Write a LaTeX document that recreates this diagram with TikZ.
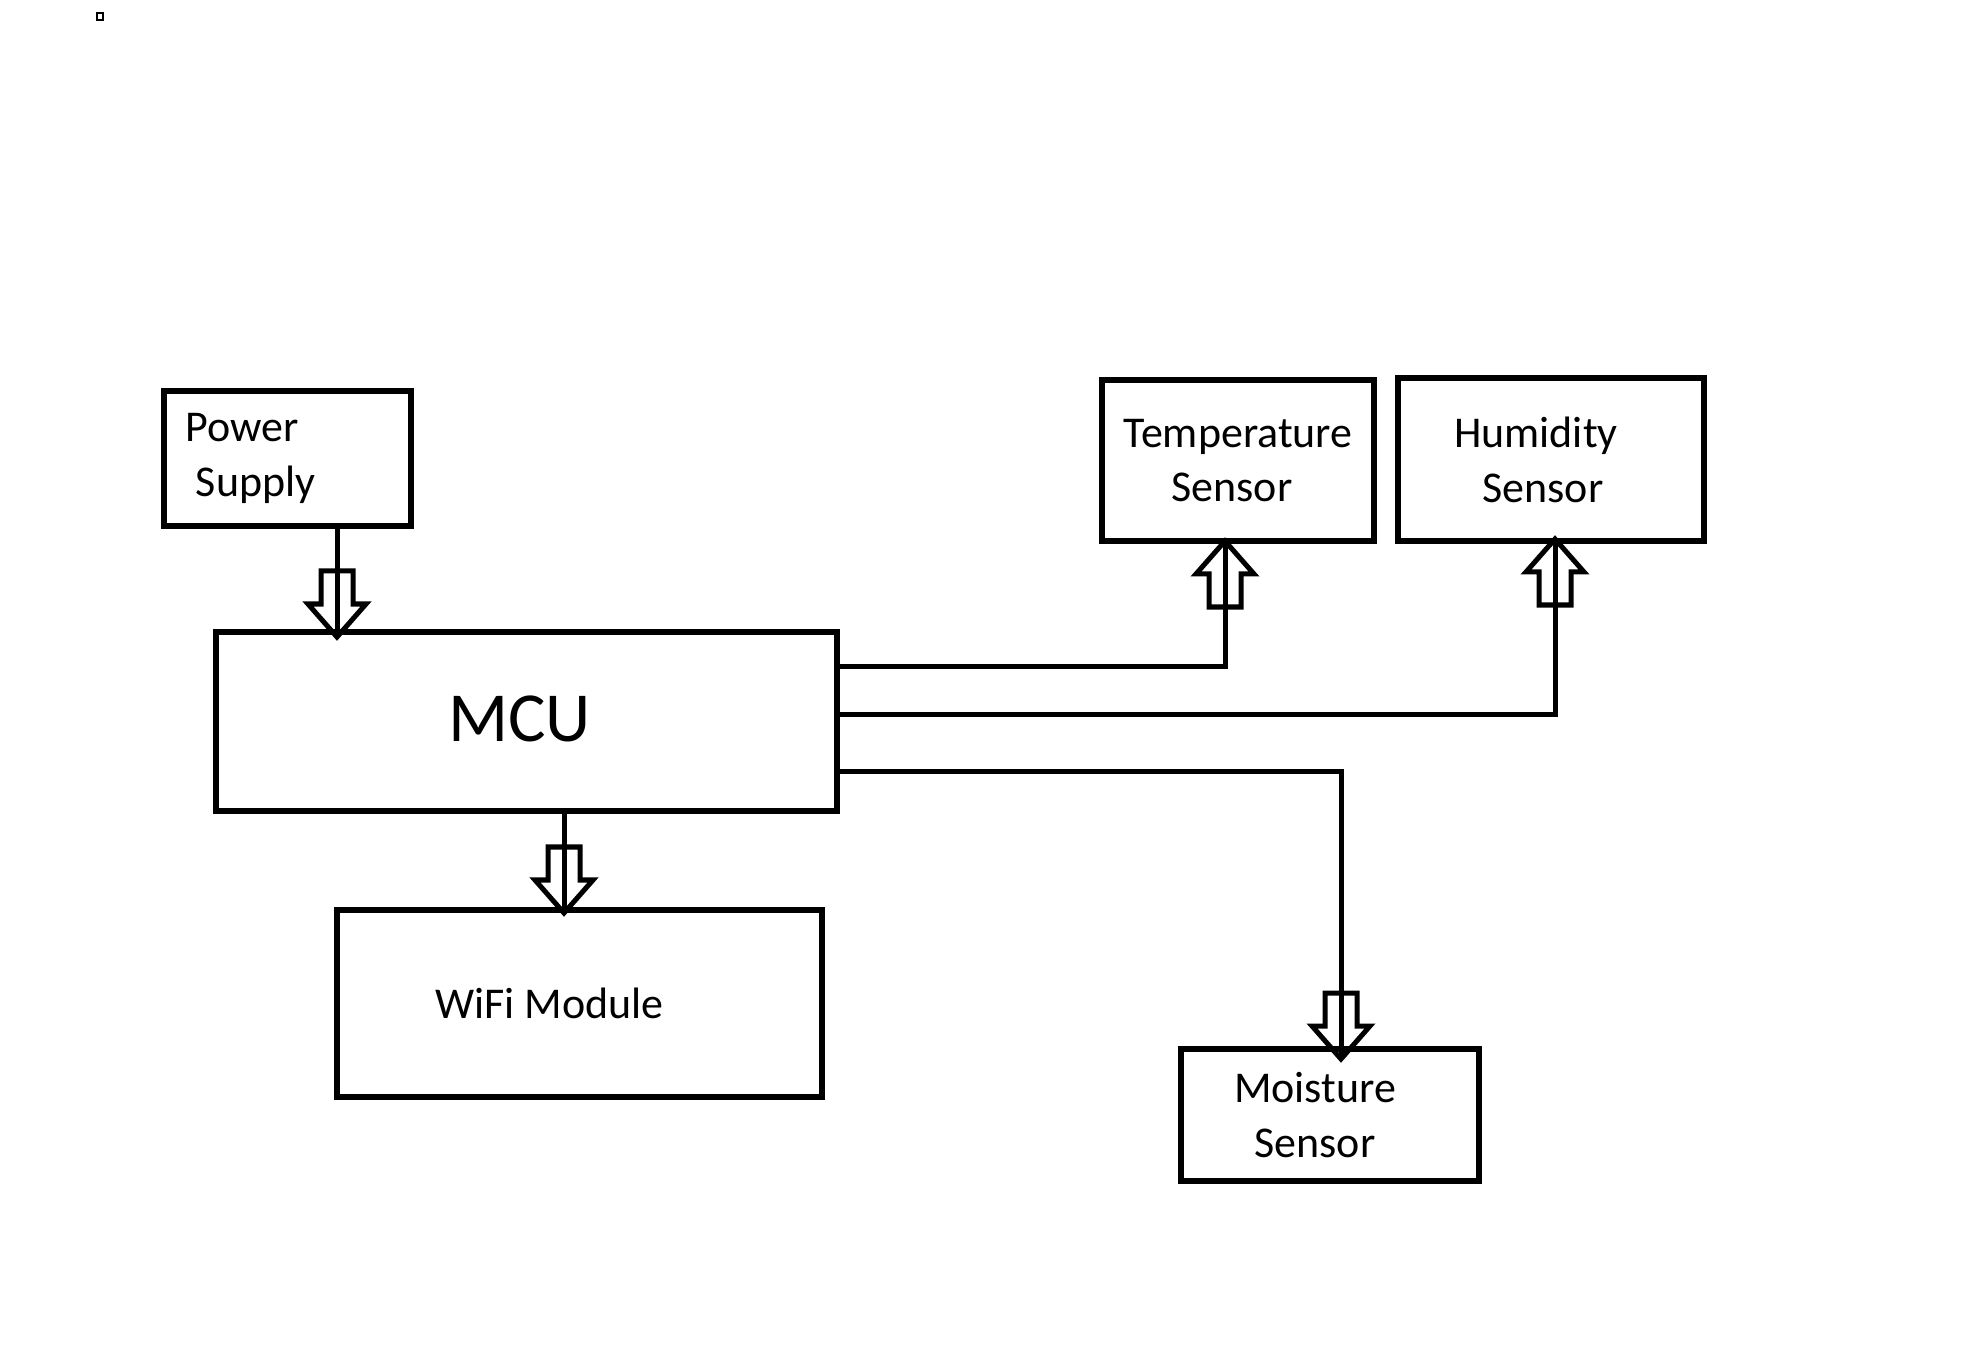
\documentclass[tikz,border=0pt]{standalone}
\usepackage{fontspec}
\setmainfont{Carlito}

\begin{document}
\begin{tikzpicture}[x=0.01cm, y=-0.01cm,
    block/.style={draw, line width=0.55mm, align=center, inner sep=0pt, font=\fontsize{12.5}{15.6}\selectfont},
    wire/.style={line width=0.5mm},
    hollow/.pic={\draw[line width=0.5mm] (0,0) -- (-29,-33) -- (-16,-33) -- (-16,-66) -- (16,-66) -- (16,-33) -- (29,-33) -- cycle;}]
    \useasboundingbox (0,0) rectangle (1981,1361);
    \draw[line width=0.25mm] (97,13) rectangle (103,20);

    \node[block, minimum width=2.47cm, minimum height=1.35cm, text width=2.03cm, align=left] (power) at (287.5,458.5) {Power\\\hspace*{0.1cm}Supply};
    \node[block, minimum width=6.21cm, minimum height=1.79cm, font=\fontsize{20}{24}\selectfont] (mcu) at (526.5,721.5) {\raisebox{0.05cm}{MCU}\hspace*{0.14cm}\mbox{}};
    \node[block, minimum width=4.85cm, minimum height=1.87cm] (wifi) at (579.5,1003.5) {WiFi Module\hspace*{0.6cm}\mbox{}};
    \node[block, minimum width=2.72cm, minimum height=1.61cm] (temp) at (1238,460.5) {Temperature\\Sensor\hspace*{0.12cm}\mbox{}};
    \node[block, minimum width=3.06cm, minimum height=1.63cm] (hum) at (1551,459.5) {Humidity\hspace*{0.3cm}\mbox{}\\Sensor\hspace*{0.16cm}\mbox{}};
    \node[block, minimum width=2.98cm, minimum height=1.32cm] (moist) at (1330,1115) {Moisture\hspace*{0.3cm}\mbox{}\\Sensor\hspace*{0.3cm}\mbox{}};

    \coordinate (pwrin) at (337,637);
    \coordinate (wifiin) at (564,913);
    \coordinate (tempin) at (1225,541);
    \coordinate (humin) at (1555,539);
    \coordinate (moistin) at (1341,1059);

    \draw[wire] (power.south -| pwrin) -- (pwrin);
    \draw[wire] (mcu.south -| wifiin) -- (wifiin);
    \draw[wire] ([yshift=0.545cm]mcu.east) -| (tempin);
    \draw[wire] ([yshift=0.065cm]mcu.east) -| (humin);
    \draw[wire] ([yshift=-0.495cm]mcu.east) -| (moistin);

    \pic at (pwrin) {hollow};
    \pic at (wifiin) {hollow};
    \pic at (moistin) {hollow};
    \pic[rotate=180] at (tempin) {hollow};
    \pic[rotate=180] at (humin) {hollow};
\end{tikzpicture}
\end{document}
